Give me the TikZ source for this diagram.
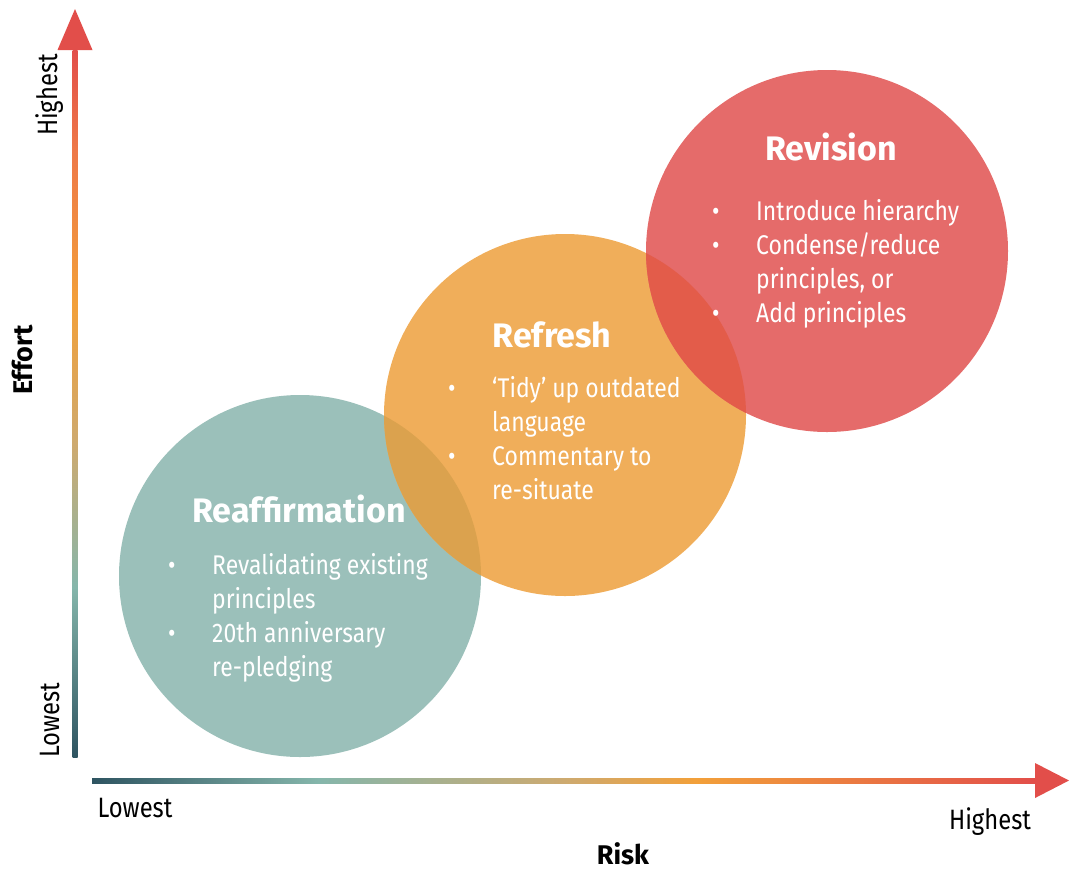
\documentclass[tikz,border=0pt]{standalone}
\usepackage{fontspec}
\setmainfont[FakeStretch=0.85,BoldFeatures={FakeStretch=1.0}]{Fira Sans}
\usepackage{xcolor}
\usetikzlibrary{positioning,calc}

\definecolor{reafcol}{HTML}{9BC0BA}
\definecolor{refrcol}{HTML}{F0AE5A}
\definecolor{reviscol}{HTML}{E56B6A}
\definecolor{mixone}{HTML}{DBA24E}
\definecolor{mixtwo}{HTML}{E35C4A}
\definecolor{axdark}{HTML}{2E5461}
\definecolor{axteal}{HTML}{85B6AB}
\definecolor{axtan}{HTML}{CDAA70}
\definecolor{axorange}{HTML}{F2A03A}
\definecolor{axredor}{HTML}{EE7848}
\definecolor{axred}{HTML}{E24E4A}

\pgfdeclarehorizontalshading{riskshade}{100bp}{color(0bp)=(axdark); color(25bp)=(axdark); color(37bp)=(axteal); color(50bp)=(axtan); color(57bp)=(axorange); color(75bp)=(axred); color(100bp)=(axred)}
\pgfdeclareverticalshading{effortshade}{100bp}{color(0bp)=(axdark); color(25bp)=(axdark); color(37bp)=(axteal); color(47bp)=(axtan); color(57bp)=(axorange); color(68bp)=(axredor); color(75bp)=(axred); color(100bp)=(axred)}

% bullet and continuation line for the lists
\newcommand{\itm}{\makebox[44pt][l]{\textbullet}}
\newcommand{\nxt}{\hspace*{44pt}}

\begin{document}
\begin{tikzpicture}[x=1pt,y=-1pt,
		title/.style={anchor=base, text=white, inner sep=0pt, font=\bfseries\fontsize{34}{40}\selectfont},
		items/.style={anchor=base west, align=left, inner sep=0pt, text=white, font=\fontsize{27}{34}\selectfont},
		axlab/.style={text=black, inner sep=0pt, font=\fontsize{28}{32}\selectfont},
		axname/.style={text=black, inner sep=0pt, font=\bfseries\fontsize{27}{32}\selectfont}]
		\useasboundingbox (0,0) rectangle (1070,871);
		\coordinate (reaf) at (300,576);
		\coordinate (refr) at (565,415);
		\coordinate (revis) at (827,251);
		% the three circles
		\fill[reafcol] (reaf) circle (181);
		\fill[refrcol] (refr) circle (181);
		\fill[reviscol] (revis) circle (181);
		\begin{scope}
			\clip (reaf) circle (181);
			\fill[mixone] (refr) circle (181);
		\end{scope}
		\begin{scope}
			\clip (refr) circle (181);
			\fill[mixtwo] (revis) circle (181);
		\end{scope}
		% axes
		\coordinate (ybot) at (75,757);
		\coordinate (ytop) at (75,9);
		\coordinate (xl) at (92,780.5);
		\coordinate (xr) at (1069,780.5);
		\shade[shading=effortshade] ($(ybot)+(-2.5,0)$) rectangle ($(ytop)+(2.5,41)$);
		\fill[axred] (ytop) -- ++(-17.5,41) -- ++(35,0) -- cycle;
		\shade[shading=riskshade] ($(xl)+(0,-2.5)$) rectangle ($(xr)+(-34,2.5)$);
		\fill[axred] (xr) -- ++(-34,-17.5) -- ++(0,35) -- cycle;
		\node[axlab, rotate=90] (effhi) at (50,95) {Highest};
		\node[axlab, rotate=90] (efflo) at (50,720) {Lowest};
		\node[axname, rotate=90] (effort) at (22,360) {Effort};
		\node[axlab] (risklo) at (135,808) {Lowest};
		\node[axlab] (riskhi) at (990,822) {Highest};
		\node[axname, anchor=base] (risk) at (623,864) {Risk};
		% texts in the circles (base is the last line)
		\node[title] (reaftitle) at (299,522) {Reaffirmation};
		\node[items] (reaflist) at (168,676) {\itm Revalidating existing\\\nxt principles\\\itm 20th anniversary\\\nxt re-pledging};
		\node[title] (refrtitle) at (552,347) {Refresh};
		\node[items] (refrlist) at (448,499) {\itm `Tidy' up outdated\\\nxt language\\\itm Commentary to\\\nxt re-situate};
		\node[title] (revistitle) at (831,160) {Revision};
		\node[items] (revislist) at (712,322) {\itm Introduce hierarchy\\\itm Condense/reduce\\\nxt principles, or\\\itm Add principles};
	\end{tikzpicture}
\end{document}
